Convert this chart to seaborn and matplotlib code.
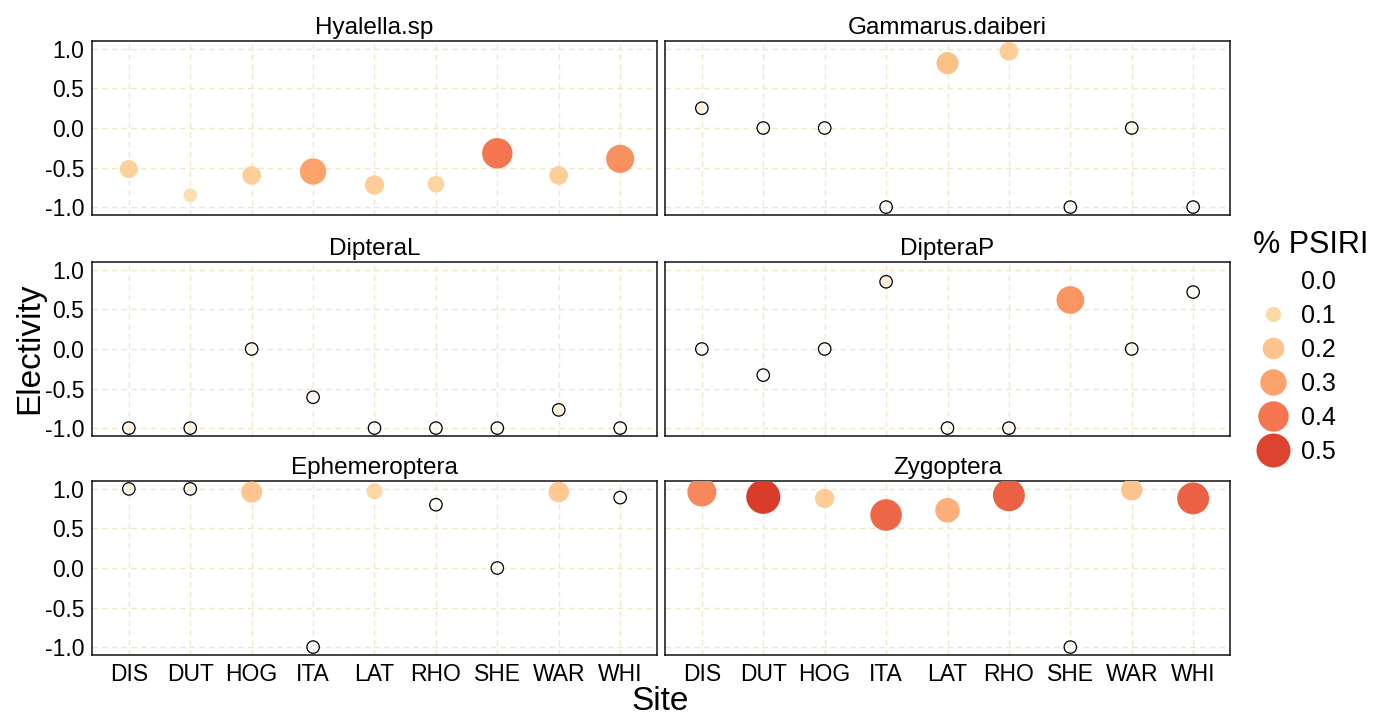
import numpy as np
import pandas as pd
import matplotlib
matplotlib.use("Agg")
import matplotlib.pyplot as plt
from matplotlib.colors import LinearSegmentedColormap
from matplotlib.lines import Line2D
import seaborn as sns

# Data
sites = ["DIS", "DUT", "HOG", "ITA", "LAT", "RHO", "SHE", "WAR", "WHI"]
taxa = ["Hyalella.sp", "Gammarus.daiberi", "DipteraL", "DipteraP", "Ephemeroptera", "Zygoptera"]

elec_hyalella = [-0.52, -0.85, -0.60, -0.55, -0.72, -0.71, -0.32, -0.60, -0.39]
psiri_hyalella = [0.14, 0.08, 0.15, 0.30, 0.16, 0.12, 0.40, 0.15, 0.34]

elec_gammarus = [0.25, 0.0, 0.0, -1.0, 0.82, 0.97, -1.0, 0.0, -1.0]
psiri_gammarus = [0.02, 0.0, 0.0, 0.0, 0.21, 0.15, 0.0, 0.0, 0.0]

elec_dipteral = [-1.0, -1.0, 0.0, -0.61, -1.0, -1.0, -1.0, -0.77, -1.0]
psiri_dipteral = [0.02, 0.02, 0.01, 0.01, 0.0, 0.0, 0.0, 0.03, 0.0]

elec_dipterap = [0.0, -0.33, 0.0, 0.85, -1.0, -1.0, 0.62, 0.0, 0.72]
psiri_dipterap = [0.0, 0.0, 0.0, 0.03, 0.0, 0.01, 0.33, 0.0, 0.01]

elec_ephem = [1.0, 1.0, 0.96, -1.0, 0.97, 0.80, 0.0, 0.96, 0.89]
psiri_ephem = [0.02, 0.02, 0.19, 0.0, 0.11, 0.0, 0.0, 0.18, 0.0]

elec_zygo = [0.96, 0.90, 0.88, 0.67, 0.73, 0.92, -1.0, 0.99, 0.88]
psiri_zygo = [0.36, 0.52, 0.16, 0.43, 0.26, 0.44, 0.0, 0.20, 0.44]

legend_breaks = [0.0, 0.1, 0.2, 0.3, 0.4, 0.5]

elec_all = [elec_hyalella, elec_gammarus, elec_dipteral, elec_dipterap, elec_ephem, elec_zygo]
psiri_all = [psiri_hyalella, psiri_gammarus, psiri_dipteral, psiri_dipterap, psiri_ephem, psiri_zygo]

rows = []
for taxon, ev, pv in zip(taxa, elec_all, psiri_all):
    for s, e, p in zip(sites, ev, pv):
        rows.append({"Taxon": taxon, "Site": s, "Electivity": e, "PSIRI": p})
df = pd.DataFrame(rows)

sns.set_theme(style="white")
plt.rcParams["font.family"] = ["Liberation Sans", "DejaVu Sans"]
plt.rcParams["text.color"] = "black"

cmap = LinearSegmentedColormap.from_list(
    "psiri",
    [(0.0, "#FFF4E4"), (0.1 / 0.55, "#FDD9A6"), (0.2 / 0.55, "#FDC38C"),
     (0.3 / 0.55, "#FCA26B"), (0.4 / 0.55, "#F37750"), (0.5 / 0.55, "#DC4330"),
     (1.0, "#D03620")])
hue_norm = (0.0, 0.55)
sizes = (2, 600)
size_norm = (0.0, 0.5)

fig = plt.figure(figsize=(13.74, 7.14), dpi=100)
W, H = 1374, 714
col_x = [92, 665]
row_top = [41, 262, 481]
pw, ph = 565, 174

grid_col = "#F0E6C8"
for i, taxon in enumerate(taxa):
    r, c = divmod(i, 2)
    ax = fig.add_axes([col_x[c] / W, 1 - (row_top[r] + ph) / H, pw / W, ph / H])
    sub = df[df["Taxon"] == taxon]
    ax.grid(True, linestyle=(0, (4, 3)), color=grid_col, linewidth=1.0, zorder=0)
    ax.set_axisbelow(True)
    sns.scatterplot(data=sub, x="Site", y="Electivity", hue="PSIRI", size="PSIRI",
                    palette=cmap, hue_norm=hue_norm, sizes=sizes, size_norm=size_norm,
                    linewidth=0, legend=False, ax=ax, zorder=3)
    zero = sub[sub["PSIRI"] < 0.05]
    sns.scatterplot(data=zero, x="Site", y="Electivity", s=80, facecolor="none",
                    edgecolor="black", linewidth=0.9, legend=False, ax=ax, zorder=4)
    ax.set_xlim(-0.6, len(sites) - 0.4)
    ax.set_ylim(-1.1, 1.1)
    ax.set_xticks(range(len(sites)))
    ax.set_yticks([-1.0, -0.5, 0.0, 0.5, 1.0])
    ax.set_title(taxon, fontsize=17.5, pad=5, color="black")
    ax.set_xlabel("")
    ax.set_ylabel("")
    for sp in ax.spines.values():
        sp.set_color("#111111")
        sp.set_linewidth(1.1)
    ax.tick_params(axis="both", direction="out", length=3.5, width=0.8, color="#333333",
                   labelsize=16.5, labelcolor="black", pad=2)
    if r == 2:
        ax.set_xticklabels(sites)
    else:
        ax.tick_params(axis="x", length=0, labelbottom=False)
    if c == 0:
        ax.set_yticklabels(["-1.0", "-0.5", "0.0", "0.5", "1.0"])
    else:
        ax.tick_params(axis="y", labelleft=False)

fig.text(30 / W, 1 - 348.5 / H, "Electivity", rotation=90, fontsize=24,
         ha="center", va="center", color="black")
fig.text(660.5 / W, 1 - 701 / H, "Site", fontsize=24, ha="center", va="center",
         color="black")

# legend for size + colour
handles = []
for b in legend_breaks:
    s = sizes[0] + (b - size_norm[0]) / (size_norm[1] - size_norm[0]) * (sizes[1] - sizes[0])
    col = cmap((b - hue_norm[0]) / (hue_norm[1] - hue_norm[0]))
    handles.append(Line2D([], [], marker="o", linestyle="none", markersize=np.sqrt(s),
                          markerfacecolor=col, markeredgewidth=0))
leg = fig.legend(handles, [f"{b:.1f}" for b in legend_breaks], title="% PSIRI",
                 loc="upper left", bbox_to_anchor=(1243 / W, 1 - 220 / H),
                 frameon=False, fontsize=18, title_fontsize=22, labelspacing=0.4,
                 handletextpad=0.3, handlelength=1.6, borderaxespad=0,
                 labelcolor="black")
leg.get_title().set_color("black")
leg._legend_box.align = "left"

fig.savefig("out.png", dpi=100)
